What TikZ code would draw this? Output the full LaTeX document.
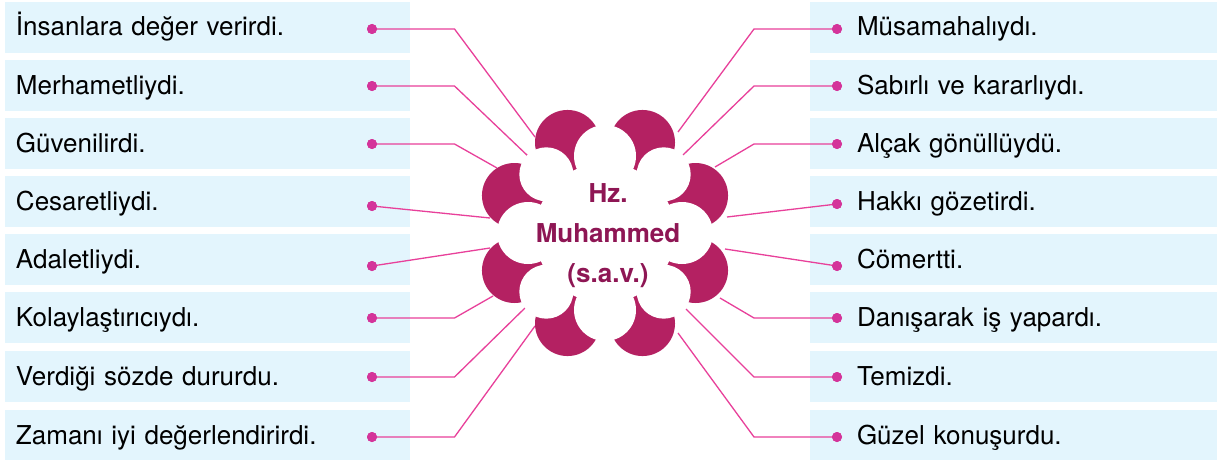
\documentclass[tikz,border=0pt]{standalone}
\usepackage{fontspec}
\setmainfont{TeX Gyre Heros}
\definecolor{boxbg}{RGB}{227,245,253}
\definecolor{petalc}{RGB}{180,33,98}
\definecolor{linec}{RGB}{232,64,154}
\definecolor{dotc}{RGB}{212,52,154}
\definecolor{titlec}{RGB}{142,22,84}
\begin{document}
\begin{tikzpicture}[x=1pt,y=-1pt,
  lbox/.style={fill=boxbg, draw=none, minimum width=405pt, minimum height=51pt,
    text width=383pt, inner xsep=11pt, inner ysep=0pt, align=left,
    font=\fontsize{26}{30}\selectfont, text height=19pt, text depth=2pt},
  rbox/.style={lbox, minimum width=407pt, text width=313pt, inner xsep=47pt},
  dotn/.style={circle, fill=dotc, minimum size=10pt, inner sep=0pt},
  conn/.style={draw=linec, line width=1.3pt, line join=round},
  petal/.style={fill=petalc},
  title/.style={text=titlec, font=\fontsize{26}{40}\selectfont\bfseries, align=center}
]
\useasboundingbox (0,0) rectangle (1217,460);
\fill[white] (0,0) rectangle (1217,460);

% boxes
\foreach \i/\y/\t in {1/27.5/İnsanlara değer verirdi., 2/85.5/Merhametliydi., 3/143.5/Güvenilirdi., 4/201.5/Cesaretliydi., 5/259.5/Adaletliydi., 6/317.5/Kolaylaştırıcıydı., 7/376.5/Verdiği sözde dururdu., 8/435.5/Zamanı iyi değerlendirirdi.}
  \node[lbox] (L\i) at (207.5,\y) {\t};
\foreach \i/\y/\t in {1/27.5/Müsamahalıydı., 2/85.5/Sabırlı ve kararlıydı., 3/143.5/Alçak gönüllüydü., 4/201.5/Hakkı gözetirdi., 5/259.5/Cömertti., 6/317.5/Danışarak iş yapardı., 7/376.5/Temizdi., 8/435.5/Güzel konuşurdu.}
  \node[rbox] (R\i) at (1013.5,\y) {\t};

% dots
\foreach \i/\y in {1/29,2/86,3/144,4/206,5/266,6/318,7/377,8/437}
  \node[dotn] (dL\i) at (372,\y) {};
\foreach \i/\y in {1/29,2/86,3/144,4/204,5/266,6/318,7/377,8/437}
  \node[dotn] (dR\i) at (837,\y) {};

% connector ends at the flower
\foreach \i/\x/\y in {1/535/137,2/529/157,3/497/168,4/490/218,5/490/248,6/493/296,7/526/307,8/535/326}
  \coordinate (eL\i) at (\x,\y);
\foreach \i/\x/\y in {1/678/132,2/683/155,3/715/167,4/727/217,5/725/249,6/720/298,7/686/309,8/678/333}
  \coordinate (eR\i) at (\x,\y);
\coordinate (bendL) at (454.5,0);
\coordinate (bendR) at (754,0);

% connectors
\foreach \i in {1,2,3,6,7,8}{
  \draw[conn] (dL\i.center) -- (dL\i.center -| bendL) -- (eL\i);
  \draw[conn] (dR\i.center) -- (dR\i.center -| bendR) -- (eR\i);
}
\foreach \i in {4,5}{
  \draw[conn] (dL\i.center) -- (eL\i);
  \draw[conn] (dR\i.center) -- (eR\i);
}
% dots on top of the connector ends
\foreach \i in {1,...,8}{
  \fill[dotc] (dL\i) circle[radius=5pt];
  \fill[dotc] (dR\i) circle[radius=5pt];
}

% flower
\begin{scope}[shift={(605,233)}]
  \foreach \a in {22.5,67.5,...,337.5}
    \fill[petal] (\a:98) circle[radius=32.5pt];
  \fill[white] (0,0) circle[radius=70pt];
  \foreach \a in {0,90,180,270}
    \fill[white] (\a:77) circle[radius=31pt];
  \foreach \a in {45,135,225,315}
    \fill[white] (\a:83) circle[radius=27pt];
\end{scope}
\node[title] (center) at (608,236) {Hz.\\Muhammed\\(s.a.v.)};
\end{tikzpicture}
\end{document}
